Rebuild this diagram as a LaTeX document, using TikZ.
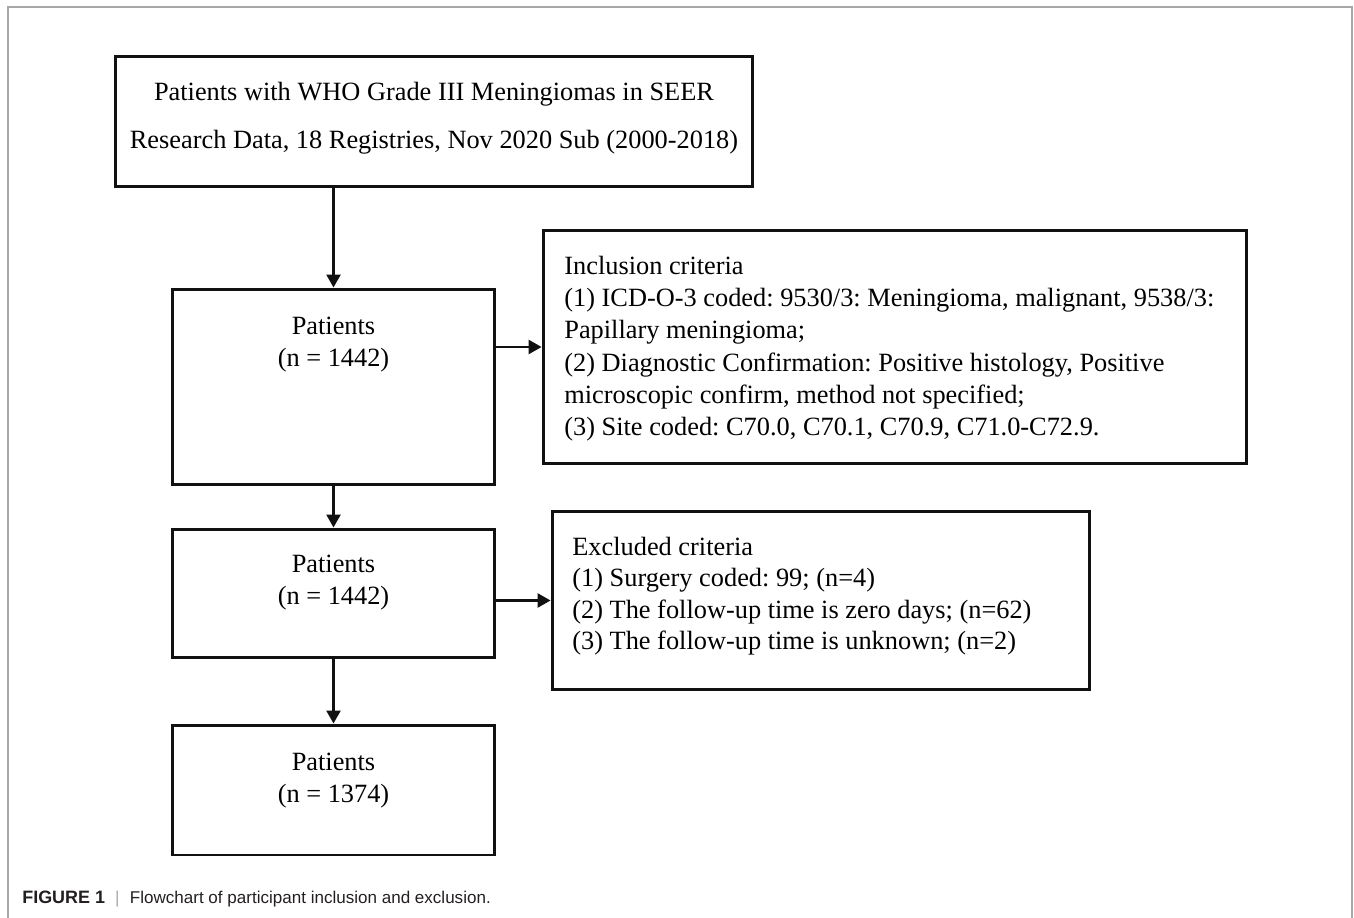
\documentclass[tikz,border=0pt]{standalone}
\usepackage{fontspec}
\setmainfont{Liberation Serif}
\newfontfamily\capfont{Liberation Sans}
\usepackage{tikz}
\usetikzlibrary{arrows.meta, positioning, calc}
\usepackage{xcolor}
\definecolor{fcframe}{HTML}{A8A8A8}
\definecolor{fcline}{HTML}{111111}
\definecolor{fccap}{HTML}{231F20}
\frenchspacing

\begin{document}
\begin{tikzpicture}[
    x=0.02cm, y=-0.02cm,
    every node/.style={font=\fontsize{15}{18}\selectfont, align=center},
    stage/.style={draw=fcline, line width=1.7pt, inner sep=0pt},
    stagetext/.style={inner sep=0pt, anchor=north},
    crittext/.style={inner sep=0pt, anchor=north west, align=left},
    flow/.style={-{Triangle[length=7.4pt, width=8pt]}, line width=1.4pt, fcline}
  ]
    \useasboundingbox (0,0) rectangle (1354,918);
    \draw[fcframe, line width=1.1pt] (8,918) -- (8,7) -- (1352,7) -- (1352,918);

    % boxes
    \node[stage, minimum width=12.76cm, minimum height=2.62cm] (src) at (434,121.5) {};
    \node[stage, minimum width=6.46cm, minimum height=3.92cm] (pinit) at (333.5,387) {};
    \node[stage, minimum width=14.08cm, minimum height=4.68cm] (incl) at (895,347) {};
    \node[stage, minimum width=6.46cm, minimum height=2.58cm] (pmid) at (333.5,593.5) {};
    \node[stage, minimum width=10.76cm, minimum height=3.58cm] (excl) at (821,600.5) {};
    \node[stage, minimum width=6.46cm, minimum height=2.60cm] (pfin) at (333.5,790) {};

    % texts
    \node[stagetext, font=\fontsize{15}{27}\selectfont] (srctext) at (434,82)
      {Patients with WHO Grade III Meningiomas in SEER\\
       Research Data, 18 Registries, Nov 2020 Sub (2000-2018)};
    \node[stagetext] (pinittext) at (333.5,317) {Patients\\(n = 1442)};
    \node[stagetext] (pmidtext) at (333.5,555) {Patients\\(n = 1442)};
    \node[stagetext] (pfintext) at (333.5,753) {Patients\\(n = 1374)};
    \node[crittext, font=\fontsize{15}{18.3}\selectfont] (incltext) at (564,256)
      {Inclusion criteria\\
       (1) ICD-O-3 coded: 9530/3: Meningioma, malignant, 9538/3:\\
       Papillary meningioma;\\
       (2) Diagnostic Confirmation: Positive histology, Positive\\
       microscopic confirm, method not specified;\\
       (3) Site coded: C70.0, C70.1, C70.9, C71.0-C72.9.};
    \node[crittext, font=\fontsize{15}{17.8}\selectfont] (excltext) at (572,537)
      {Excluded criteria\\
       (1) Surgery coded: 99; (n=4)\\
       (2) The follow-up time is zero days; (n=62)\\
       (3) The follow-up time is unknown; (n=2)};

    % arrows
    \draw[flow] (pinit.north |- src.south) -- (pinit.north);
    \draw[flow] (pinit.east |- incl.west) -- (incl.west);
    \draw[flow] (pinit.south) -- (pmid.north);
    \draw[flow] (pmid.east |- excl.west) -- (excl.west);
    \draw[flow] (pmid.south) -- (pfin.north);

    \node[anchor=base west, inner sep=0pt, text=fccap, font=\capfont\fontsize{9.7}{12}\selectfont] (cap) at (22,903)
      {{\fontsize{10.2}{12}\selectfont\textbf{FIGURE 1}}\hspace{0.6em}{\color{fcframe}|}\hspace{0.6em}Flowchart of participant inclusion and exclusion.};
  \end{tikzpicture}
\end{document}
